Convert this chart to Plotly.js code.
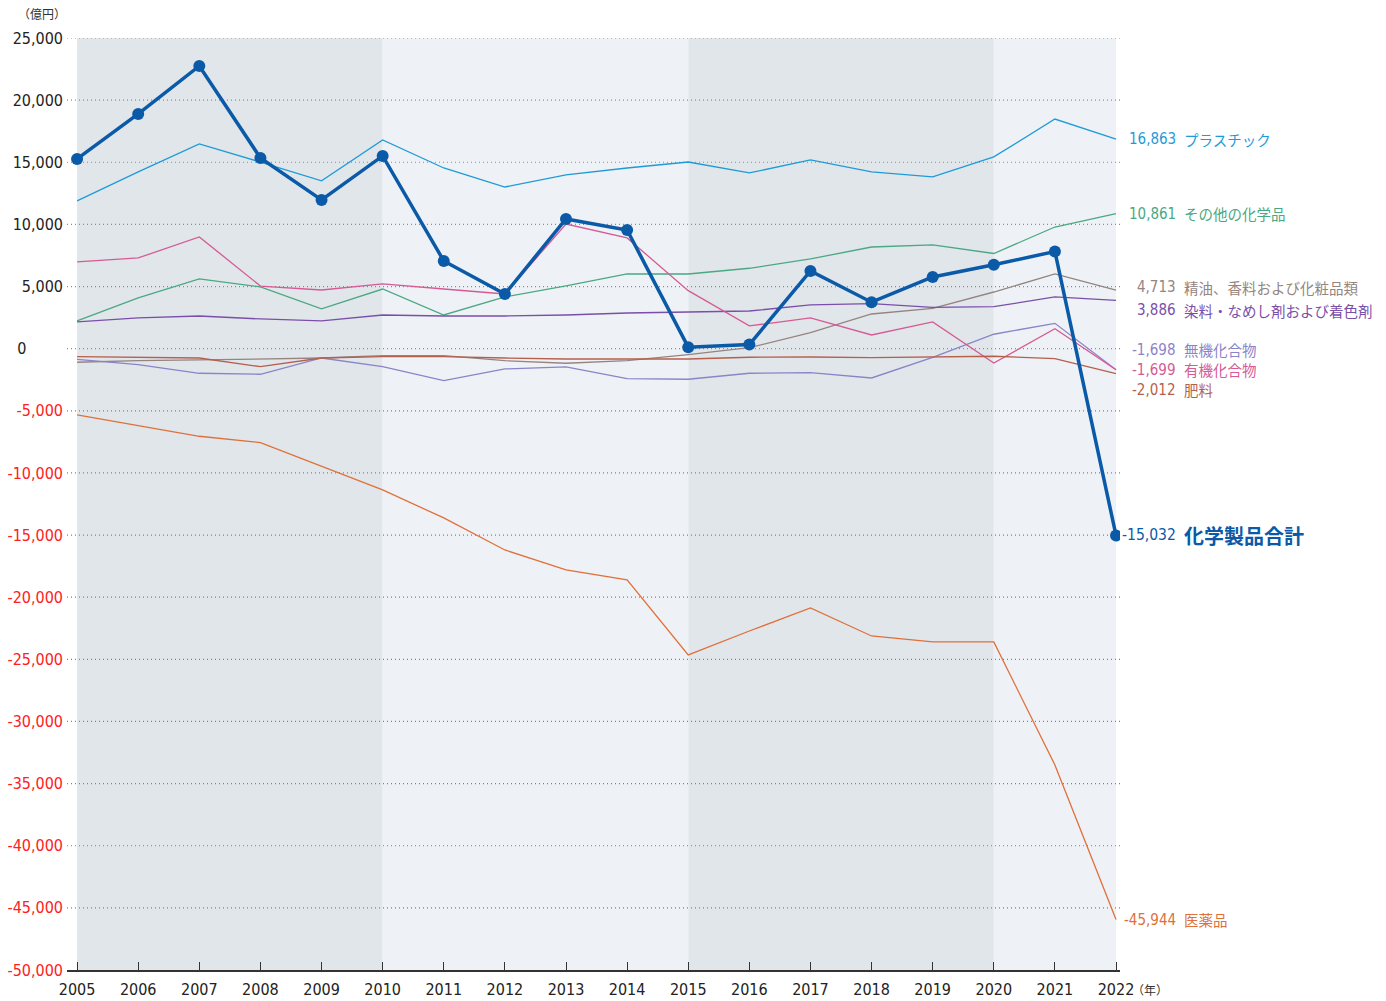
<!DOCTYPE html>
<html>
<head>
<meta charset="utf-8">
<script src="https://cdn.plot.ly/plotly-3.0.1.min.js"></script>
<style>body{margin:0;background:#fff}#chart{width:1386px;height:1001px}</style>
</head>
<body>
<div id="chart"></div>
<script>
const years = [2005,2006,2007,2008,2009,2010,2011,2012,2013,2014,2015,2016,2017,2018,2019,2020,2021,2022];
const totalChem    = [15270,18890,22750,15350,11970,15510,7060,4400,10440,9550,120,330,6250,3740,5770,6750,7820,-15032];
const plastics     = [11890,14220,16470,15020,13500,16790,14540,13010,13980,14540,15020,14140,15190,14220,13820,15430,18480,16863];
const otherChem    = [2230,4080,5610,4970,3200,4800,2710,4160,5050,6010,6010,6470,7220,8180,8350,7660,9790,10861];
const essentialOils= [-1095,-965,-910,-855,-750,-565,-565,-965,-1175,-965,-480,80,1290,2790,3250,4560,6010,4713];
const dyes         = [2150,2470,2630,2390,2230,2710,2630,2630,2710,2870,2950,3030,3520,3620,3330,3380,4160,3886];
const inorganic    = [-855,-1290,-1980,-2060,-750,-1450,-2575,-1630,-1470,-2410,-2460,-1980,-1930,-2360,-700,1160,2040,-1698];
const organic      = [6980,7300,8990,5040,4720,5210,4800,4400,10030,8910,4670,1830,2470,1100,2150,-1150,1600,-1699];
const fertilizer   = [-645,-725,-750,-1450,-750,-645,-645,-750,-830,-830,-830,-690,-670,-725,-690,-610,-805,-2012];
const pharma       = [-5335,-6220,-7050,-7560,-9440,-11370,-13620,-16200,-17810,-18610,-24650,-22720,-20870,-23120,-23600,-23600,-33500,-45944];

const seriesNames = ['化学製品合計','プラスチック','その他の化学品','精油、香料および化粧品類','染料・なめし剤および着色剤','無機化合物','有機化合物','肥料','医薬品'];
const yTicks = [25000,20000,15000,10000,5000,0,-5000,-10000,-15000,-20000,-25000,-30000,-35000,-40000,-45000,-50000];
const bands = [[2005,2010],[2015,2020]];
const lightBands = [[2010,2015],[2020,2022]];
const unitLabel = '（億円）';
const yearLabel = '（年）';

const NUM = '"DejaVu Sans Condensed","Liberation Sans Narrow",Roboto,sans-serif';
const JP = '"Noto Sans CJK JP","Noto Sans",sans-serif';

const fmt = v => (v<0?'-':'') + Math.abs(v).toLocaleString('en-US');

const series = [
  {y: plastics, color:'#1e9bd7', name: seriesNames[1], shift:0},
  {y: otherChem, color:'#4aa882', name: seriesNames[2], shift:0},
  {y: essentialOils, color:'#958480', name: seriesNames[3], shift:3},
  {y: dyes, color:'#7a4fa9', name: seriesNames[4], shift:-10},
  {y: inorganic, color:'#8a84c8', name: seriesNames[5], shift:20},
  {y: organic, color:'#d65a94', name: seriesNames[6], shift:0},
  {y: fertilizer, color:'#b65f4c', name: seriesNames[7], shift:-16},
  {y: pharma, color:'#e0703a', name: seriesNames[8], shift:0}
];

const traces = series.map(s => ({
  x: years, y: s.y, type:'scatter', mode:'lines', name:s.name,
  line:{color:s.color, width:1.3}, hoverinfo:'skip'
}));
traces.push({
  x: years, y: totalChem, type:'scatter', mode:'lines+markers', name: seriesNames[0],
  line:{color:'#0b5aa8', width:3.5}, marker:{color:'#0b5aa8', size:12}, hoverinfo:'skip'
});

const shapes = [];
bands.forEach(b => shapes.push({type:'rect', xref:'x', yref:'paper', x0:b[0], x1:b[1], y0:0, y1:1, fillcolor:'#e1e6eb', line:{width:0}, layer:'below'}));
lightBands.forEach(b => shapes.push({type:'rect', xref:'x', yref:'paper', x0:b[0], x1:b[1], y0:0, y1:1, fillcolor:'#eef1f5', line:{width:0}, layer:'below'}));
yTicks.forEach(v => {
  if (v === -50000) return;
  shapes.push({type:'line', xref:'paper', yref:'y', x0:0, x1:1, y0:v, y1:v,
    line:{color: v<0 ? '#f25050' : '#8c8c8c', width:1.2, dash:'1px,3px'}, layer:'below'});
});

const annotations = [];
const lastIdx = years.length-1;
series.forEach(s => {
  const v = s.y[lastIdx];
  annotations.push({xref:'x', yref:'y', x:years[lastIdx], y:v, xshift:62, yshift:s.shift, xanchor:'right', yanchor:'middle',
    text: fmt(v), showarrow:false, font:{family:NUM, size:15, color:s.color}});
  annotations.push({xref:'x', yref:'y', x:years[lastIdx], y:v, xshift:66, yshift:s.shift, xanchor:'left', yanchor:'middle',
    text: s.name, showarrow:false, font:{family:JP, size:14.5, color:s.color}});
});
annotations.push({xref:'x', yref:'y', x:years[lastIdx], y:totalChem[lastIdx], xshift:62, xanchor:'right', yanchor:'middle',
  text: fmt(totalChem[lastIdx]), showarrow:false, font:{family:NUM, size:15.5, color:'#0b5aa8'}});
annotations.push({xref:'x', yref:'y', x:years[lastIdx], y:totalChem[lastIdx], xshift:66, xanchor:'left', yanchor:'middle',
  text: '<b>'+seriesNames[0]+'</b>', showarrow:false, font:{family:JP, size:20, color:'#0b5aa8'}});
annotations.push({xref:'paper', yref:'paper', x:-0.0236, y:1.0258, xanchor:'center', yanchor:'middle',
  text: unitLabel, showarrow:false, font:{family:JP, size:12, color:'#333'}});
annotations.push({xref:'x', yref:'paper', x:years[lastIdx], y:-0.0205, xshift:34, xanchor:'center', yanchor:'middle',
  text: yearLabel, showarrow:false, font:{family:JP, size:12, color:'#333'}});

const yText = yTicks.map(v => v<0 ? '<span style="color:#ff2020">'+fmt(v)+'</span>' : (v===0 ? '0\u00a0\u00a0\u00a0\u00a0\u00a0\u00a0\u00a0\u00a0' : fmt(v)));

const layout = {
  width:1386, height:1001,
  margin:{l:67, r:266, t:38, b:31},
  paper_bgcolor:'#ffffff', plot_bgcolor:'#ffffff',
  showlegend:false,
  xaxis:{range:[2004.835, 2022.065], tickvals:years, ticktext:years.map(String), showgrid:false, zeroline:false,
    showline:true, linecolor:'#333', linewidth:1.5, ticks:'inside', ticklen:8, tickcolor:'#333',
    ticklabelstandoff:4, tickfont:{family:NUM, size:16, color:'#222'}},
  yaxis:{range:[-50000, 25000], tickvals:yTicks, ticktext:yText, showgrid:false, zeroline:false, showline:false,
    ticks:'', ticklabelstandoff:3, tickfont:{family:NUM, size:16, color:'#222'}},
  shapes: shapes,
  annotations: annotations
};

Plotly.newPlot('chart', traces, layout, {displayModeBar:false, staticPlot:true});
</script>
</body>
</html>
